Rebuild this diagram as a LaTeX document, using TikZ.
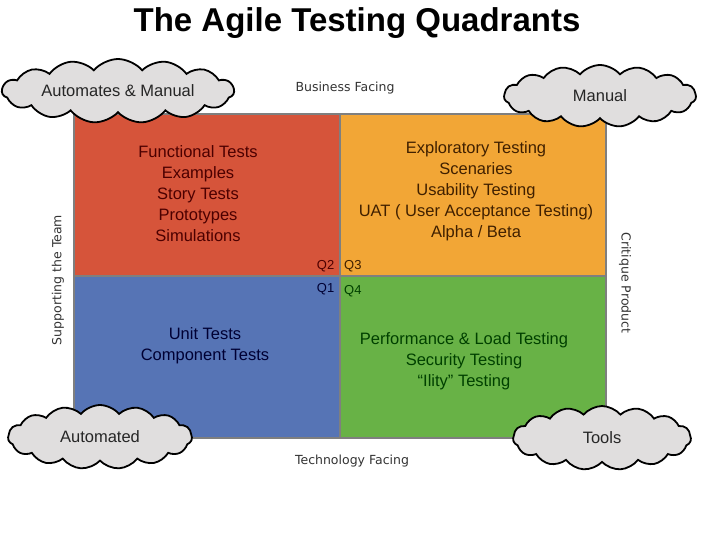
\documentclass[tikz,border=0pt]{standalone}
\usepackage{fontspec}
\setmainfont{Liberation Sans}
\newfontfamily\widesans{DejaVu Sans}
\usetikzlibrary{shapes.symbols,positioning}
\definecolor{qred}{HTML}{D6543A}
\definecolor{qorange}{HTML}{F2A636}
\definecolor{qblue}{HTML}{5674B5}
\definecolor{qgreen}{HTML}{68B246}
\definecolor{qedge}{HTML}{7F7F7F}
\definecolor{puff}{HTML}{E0DEDE}
\tikzstyle{quad}=[draw=qedge,line width=1.5pt,inner sep=0pt,anchor=north west,minimum width=266pt,minimum height=162pt]
\tikzstyle{items}=[align=center,inner sep=0pt,font=\fontsize{16.5}{21}\selectfont]
\tikzstyle{qlabel}=[inner sep=1pt,font=\fontsize{13}{15}\selectfont]
\tikzstyle{axis}=[inner sep=0pt,text=black!80,font=\widesans\fontsize{12.5}{15}\selectfont]
\tikzstyle{puffy}=[cloud,cloud puffs=15,cloud puff arc=100,cloud ignores aspect,draw=black,line width=1.8pt,fill=puff,inner sep=0pt,text=black!85,font=\fontsize{16.5}{19}\selectfont]

\begin{document}
\begin{tikzpicture}[x=1pt,y=-1pt]
    \useasboundingbox (0,0) rectangle (711,533);
    \node (title) at (357,23) {\fontsize{33}{36}\selectfont\bfseries The Agile Testing Quadrants};
    % the four quadrants
    \node [quad,fill=qred] (q2) at (73,113) {};
    \node [quad,fill=qorange] (q3) at (339,113) {};
    \node [quad,fill=qblue] (q1) at (73,275) {};
    \node [quad,fill=qgreen] (q4) at (339,275) {};
    \node [items,text=red!30!black] (t2) at (198,194)
      {Functional Tests\\Examples\\Story Tests\\Prototypes\\Simulations};
    \node [items,text=orange!25!black] (t3) at (476,191)
      {Exploratory Testing\\Scenaries\\Usability Testing\\UAT ( User Acceptance Testing)\\Alpha / Beta};
    \node [items,text=blue!20!black] (t1) at (205,346)
      {Unit Tests\\Component Tests};
    \node [items,text=green!25!black] (t4) at (464,361)
      {Performance \& Load Testing\\Security Testing\\“Ility” Testing};
    \node [qlabel,text=red!30!black,above left=3pt and 5pt of q2.south east] (l2) {Q2};
    \node [qlabel,text=orange!25!black,above right=3pt and 4pt of q3.south west] (l3) {Q3};
    \node [qlabel,text=blue!20!black,below left=7pt and 5pt of q1.north east] (l1) {Q1};
    \node [qlabel,text=green!25!black,below right=9pt and 4pt of q4.north west] (l4) {Q4};
    % the axes
    \node [axis] (business) at (345,88) {Business Facing};
    \node [axis] (technology) at (352,461) {Technology Facing};
    \node [axis,rotate=90] (supporting) at (58,280) {Supporting the Team};
    \node [axis,rotate=-90] (critique) at (625,283) {Critique Product};
    % the clouds
    \node [puffy,minimum width=232pt,minimum height=64pt] (mixed) at (118,91) {Automates \& Manual};
    \node [puffy,minimum width=192pt,minimum height=62pt] (manual) at (600,96) {Manual};
    \node [puffy,minimum width=184pt,minimum height=64pt] (automated) at (100,437) {Automated};
    \node [puffy,minimum width=178pt,minimum height=64pt] (tools) at (602,438) {Tools};
\end{tikzpicture}
\end{document}
